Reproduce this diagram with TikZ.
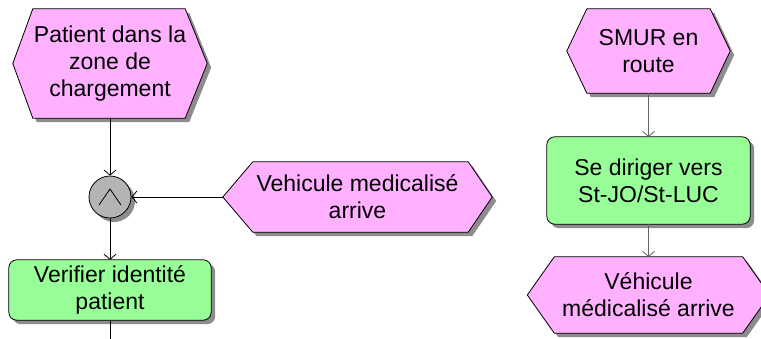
\documentclass[tikz,border=0pt]{standalone}
\usepackage{fontspec}
\setmainfont{Liberation Sans}
\usetikzlibrary{calc,arrows.meta,backgrounds}
\definecolor{evpink}{RGB}{255,176,255}
\definecolor{fngreen}{RGB}{152,255,152}
\definecolor{opgray}{RGB}{180,180,180}
\definecolor{shgray}{RGB}{140,140,140}
\definecolor{lngray}{RGB}{100,100,100}
\begin{document}
\begin{tikzpicture}[x=1pt,y=-1pt,
  txt/.style={font=\fontsize{23}{27}\selectfont, align=center, inner sep=0pt},
  evbox/.style 2 args={txt, draw=none, minimum width=#1, minimum height=#2},
  fnbox/.style 2 args={txt, draw=none, minimum width=#1, minimum height=#2},
  shadowfill/.style={fill=shgray, draw=none, transform canvas={shift={(4pt,-4pt)}}},
  evfill/.style={fill=evpink, draw=black, line width=0.8pt},
  fnfill/.style={fill=fngreen, draw=black, line width=0.8pt, rounded corners=8pt},
  conn/.style={line width=0.8pt, -{Straight Barb[length=5pt,width=12pt]}},
  plain/.style={line width=0.8pt},
]
\useasboundingbox (0,0) rectangle (761,338);

% nodes
\node[evbox={194pt}{109pt}] (e1) at (110,63.5) {Patient dans la\\zone de\\chargement};
\node[evbox={269pt}{70pt}] (e2) at (357.5,197) {Vehicule medicalisé\\arrive};
\node[fnbox={202pt}{60pt}] (f1) at (110,290) {Verifier identité\\patient};
\node[circle, draw=black, fill=opgray, line width=0.8pt, minimum size=42pt, inner sep=0pt] (g) at (110,197) {};
\node[evbox={163pt}{84pt}] (e3) at (648.5,51) {SMUR en\\route};
\node[fnbox={203pt}{87pt}] (f2) at (648.5,180.5) {Se diriger vers\\St-JO/St-LUC};
\node[evbox={242pt}{76pt}] (e4) at (648.5,295) {Véhicule\\médicalisé arrive};
\coordinate (fout) at (110,342);

\begin{pgfonlayer}{background}
  % shadows
  \fill[shadowfill] (e1.west) -- ($(e1.north west)+(20,0)$) -- ($(e1.north east)+(-22,0)$) -- (e1.east) -- ($(e1.south east)+(-22,0)$) -- ($(e1.south west)+(20,0)$) -- cycle;
  \fill[shadowfill] (e2.west) -- ($(e2.north west)+(30,0)$) -- ($(e2.north east)+(-24,0)$) -- (e2.east) -- ($(e2.south east)+(-24,0)$) -- ($(e2.south west)+(30,0)$) -- cycle;
  \fill[shadowfill] (e3.west) -- ($(e3.north west)+(20,0)$) -- ($(e3.north east)+(-20,0)$) -- (e3.east) -- ($(e3.south east)+(-20,0)$) -- ($(e3.south west)+(20,0)$) -- cycle;
  \fill[shadowfill] (e4.west) -- ($(e4.north west)+(27,0)$) -- ($(e4.north east)+(-27,0)$) -- (e4.east) -- ($(e4.south east)+(-27,0)$) -- ($(e4.south west)+(27,0)$) -- cycle;
  \fill[shadowfill, rounded corners=8pt] (f1.north west) rectangle (f1.south east);
  \fill[shadowfill, rounded corners=8pt] (f2.north west) rectangle (f2.south east);
  \fill[shadowfill] (g.center) circle[radius=21pt];
  % shapes
  \draw[evfill] (e1.west) -- ($(e1.north west)+(20,0)$) -- ($(e1.north east)+(-22,0)$) -- (e1.east) -- ($(e1.south east)+(-22,0)$) -- ($(e1.south west)+(20,0)$) -- cycle;
  \draw[evfill] (e2.west) -- ($(e2.north west)+(30,0)$) -- ($(e2.north east)+(-24,0)$) -- (e2.east) -- ($(e2.south east)+(-24,0)$) -- ($(e2.south west)+(30,0)$) -- cycle;
  \draw[evfill] (e3.west) -- ($(e3.north west)+(20,0)$) -- ($(e3.north east)+(-20,0)$) -- (e3.east) -- ($(e3.south east)+(-20,0)$) -- ($(e3.south west)+(20,0)$) -- cycle;
  \draw[evfill] (e4.west) -- ($(e4.north west)+(27,0)$) -- ($(e4.north east)+(-27,0)$) -- (e4.east) -- ($(e4.south east)+(-27,0)$) -- ($(e4.south west)+(27,0)$) -- cycle;
  \draw[fnfill] (f1.north west) rectangle (f1.south east);
  \draw[fnfill] (f2.north west) rectangle (f2.south east);
\end{pgfonlayer}

% AND symbol
\draw[plain] ($(g.center)+(-11,8)$) -- ($(g.center)+(0,-8)$) -- ($(g.center)+(11,8)$);

% connectors
\draw[conn] (e1.south) -- (g.north);
\draw[conn] (e2.west) -- (g.east);
\draw[conn] (g.south) -- (f1.north);
\draw[plain] (f1.south) -- (fout);
\draw[conn, draw=lngray] (e3.south) -- (f2.north);
\draw[conn, draw=lngray] (f2.south) -- (e4.north);
\end{tikzpicture}
\end{document}
